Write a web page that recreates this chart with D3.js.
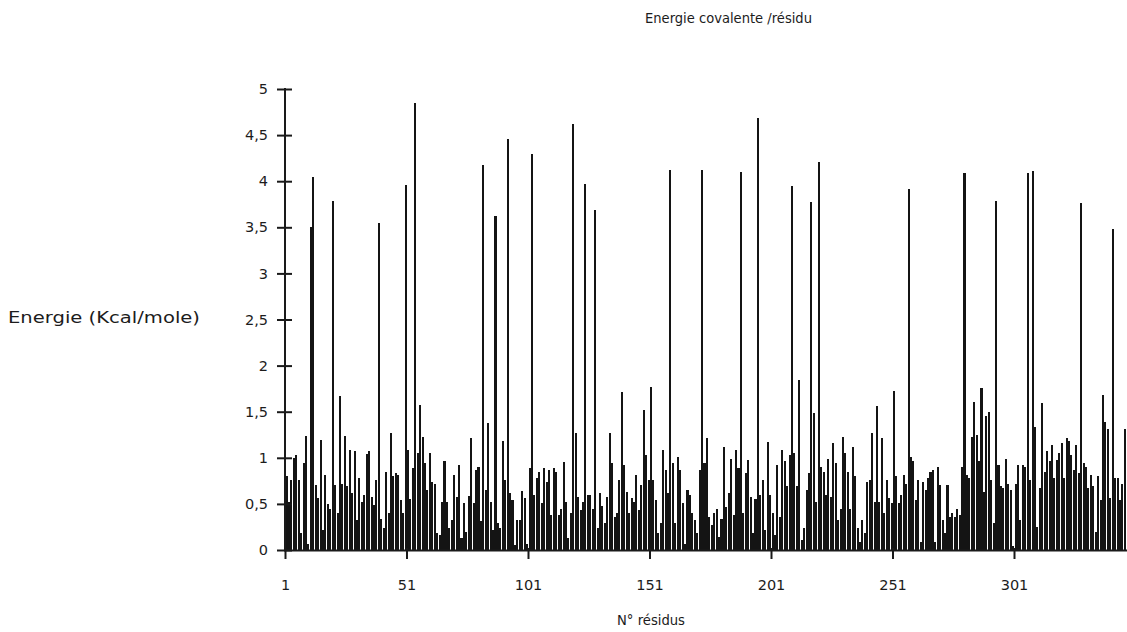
<!DOCTYPE html>
<html>
<head>
<meta charset="utf-8">
<script src="https://cdn.jsdelivr.net/npm/d3@7"></script>
<style>
  body { margin: 0; background: #fff; }
  svg { display: block; }
  text { font-family: "DejaVu Sans", "Liberation Sans", sans-serif; fill: #1c1c1c; }
</style>
</head>
<body>
<svg id="chart" width="1127" height="632"></svg>
<script>
// Covalent energy per residue (kcal/mole), residues 1..346
const energies = [
  0.80,0.52,0.76,1.00,1.03,0.76,0.18,0.94,1.24,0.07,
  3.50,4.05,0.71,0.56,1.19,0.22,0.81,0.50,0.44,3.78,
  0.71,0.40,1.67,0.72,1.24,0.69,1.09,0.62,1.07,0.33,
  0.78,0.52,0.60,1.04,1.07,0.58,0.49,0.76,3.55,0.34,
  0.24,0.85,0.40,1.27,0.80,0.83,0.81,0.54,0.40,3.96,
  1.09,0.55,0.89,4.85,1.05,1.57,1.23,0.94,0.65,1.05,
  0.74,0.72,0.18,0.16,0.52,0.96,0.52,0.24,0.33,0.81,
  0.58,0.92,0.13,0.51,0.19,0.59,1.21,0.51,0.87,0.90,
  0.31,4.18,0.65,1.38,0.52,0.22,3.62,0.29,0.24,1.18,
  0.76,4.46,0.62,0.54,0.05,0.33,0.33,0.64,0.56,0.07,
  0.89,4.29,0.60,0.78,0.85,0.51,0.89,0.74,0.87,0.38,
  0.89,0.85,0.38,0.45,0.95,0.52,0.13,0.40,4.62,1.27,
  0.58,0.43,0.52,3.97,0.60,0.60,0.45,3.69,0.24,0.62,
  0.48,0.29,0.58,1.27,0.94,0.36,0.40,0.76,1.71,0.92,
  0.63,0.40,0.56,0.52,0.81,0.43,0.71,1.52,1.03,0.76,
  1.77,0.76,0.54,0.18,0.29,1.09,0.87,0.62,4.12,0.94,
  0.29,1.01,0.87,0.51,0.07,0.65,0.60,0.40,0.33,0.18,
  0.87,4.12,0.94,1.21,0.36,0.27,0.40,0.45,0.14,0.34,
  1.12,0.47,0.62,0.99,0.38,1.09,0.89,4.10,0.40,0.83,
  0.98,0.58,0.18,0.55,4.69,0.60,0.76,0.22,1.17,0.60,
  0.40,0.16,0.92,0.36,1.09,0.96,0.69,1.03,3.95,1.05,
  0.69,1.84,0.11,0.24,0.65,0.83,3.77,1.49,0.52,4.21,
  0.90,0.85,0.60,0.99,0.58,1.16,0.94,0.33,0.45,1.23,
  1.05,0.85,0.45,1.12,0.80,0.24,0.09,0.33,0.18,0.74,
  0.76,1.27,0.52,1.56,0.52,1.21,0.40,0.76,0.56,0.51,
  1.72,0.80,0.51,0.60,0.81,0.72,3.91,1.01,0.96,0.54,
  0.76,0.09,0.74,0.65,0.78,0.85,0.87,0.09,0.90,0.71,
  0.33,0.18,0.71,0.36,0.40,0.36,0.45,0.38,0.90,4.09,
  0.81,0.78,1.23,1.61,1.25,0.96,1.76,0.63,1.45,1.50,
  0.76,0.29,3.79,0.92,0.69,0.67,0.99,0.72,0.65,0.04,
  0.72,0.92,0.33,0.92,0.90,4.09,0.76,4.11,1.33,0.25,
  0.67,1.59,0.85,1.07,0.96,1.14,0.78,0.98,1.05,1.16,
  0.78,1.21,1.18,1.03,0.87,1.14,0.83,3.76,0.94,0.90,
  0.67,0.81,0.69,0.20,0.80,0.54,1.68,1.39,1.31,0.56,
  3.48,0.78,0.78,0.54,0.72,1.31
];
const residueTicks = [1, 51, 101, 151, 201, 251, 301];
const energyTicks = [0, 0.5, 1, 1.5, 2, 2.5, 3, 3.5, 4, 4.5, 5];

const titleText = "Energie covalente /résidu";
const xTitle = "N° résidus";
const yTitle = "Energie (Kcal/mole)";

const svg = d3.select("#chart");
const ink = "#1a1a1a";

const originX = 285, baseY = 550, step = 2.43;
const x = d3.scaleLinear()
  .domain([1, energies.length])
  .range([originX, originX + (energies.length - 1) * step]);
const y = d3.scaleLinear().domain([0, 5]).range([baseY, 89]);

const frFormat = d3.formatLocale({ decimal: ",", thousands: " ", grouping: [3], currency: ["", " €"] }).format("~g");

// bars
svg.append("g")
  .selectAll("rect")
  .data(energies)
  .join("rect")
  .attr("x", (d, i) => x(i + 1) + 0.5)
  .attr("width", 2.05)
  .attr("y", d => y(d))
  .attr("height", d => y(0) - y(d))
  .attr("fill", "#141414")
  .attr("shape-rendering", "crispEdges");

// y axis
const yAxis = svg.append("g")
  .attr("transform", `translate(${originX},0)`)
  .call(d3.axisLeft(y).tickValues(energyTicks).tickSize(8).tickSizeOuter(0).tickPadding(9).tickFormat(frFormat));
yAxis.select(".domain").remove();
yAxis.append("line").attr("x1", 0).attr("x2", 0).attr("y1", y(5) - 1).attr("y2", baseY + 1)
  .attr("stroke", ink).attr("stroke-width", 2);
yAxis.selectAll(".tick line").attr("x1", 7).attr("stroke", ink).attr("stroke-width", 2);
yAxis.selectAll(".tick text").attr("font-size", 14.5).attr("fill", ink)
  .style("font-family", "'DejaVu Sans', sans-serif");

// x axis
const xAxis = svg.append("g")
  .attr("transform", `translate(0,${baseY})`)
  .call(d3.axisBottom(x).tickValues(residueTicks).tickSize(9).tickSizeOuter(0).tickPadding(21));
xAxis.select(".domain").remove();
xAxis.append("line").attr("x1", originX - 1).attr("x2", 1127).attr("y1", 0.5).attr("y2", 0.5)
  .attr("stroke", ink).attr("stroke-width", 2);
xAxis.selectAll(".tick line").attr("y1", -2).attr("stroke", ink).attr("stroke-width", 2);
xAxis.selectAll(".tick text").attr("font-size", 14.5).attr("fill", ink)
  .style("font-family", "'DejaVu Sans', sans-serif");

// titles
svg.append("text").attr("x", 645).attr("y", 23).attr("font-size", 14)
  .attr("textLength", 167).attr("lengthAdjust", "spacingAndGlyphs").text(titleText);
svg.append("text").attr("x", 617).attr("y", 625).attr("font-size", 14.5)
  .attr("textLength", 68).attr("lengthAdjust", "spacingAndGlyphs").text(xTitle);
svg.append("text").attr("x", 8).attr("y", 323).attr("font-size", 15.5)
  .attr("textLength", 192).attr("lengthAdjust", "spacingAndGlyphs").text(yTitle);
</script>
</body>
</html>
